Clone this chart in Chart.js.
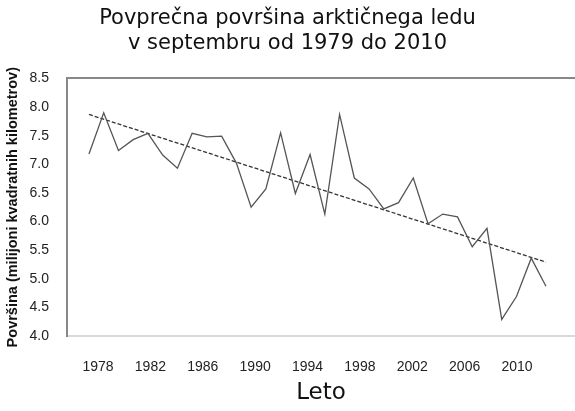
<!DOCTYPE html>
<html>
<head>
<meta charset="utf-8">
<script src="https://cdn.jsdelivr.net/npm/chart.js@4"></script>
<style>
  body { margin: 0; background: #fff; }
</style>
</head>
<body>
<canvas id="chart" width="575" height="411"></canvas>
<script>
// September average extent, millions of km2
const years = [1979, 1980, 1981, 1982, 1983, 1984, 1985, 1986, 1987, 1988, 1989, 1990, 1991, 1992, 1993, 1994,
  1995, 1996, 1997, 1998, 1999, 2000, 2001, 2002, 2003, 2004, 2005, 2006, 2007, 2008, 2009, 2010];
const extent = [7.18, 7.9, 7.24, 7.43, 7.54, 7.16, 6.93, 7.54, 7.48, 7.49, 7.02, 6.25, 6.57, 7.55, 6.49, 7.17,
  6.13, 7.87, 6.76, 6.57, 6.22, 6.33, 6.76, 5.96, 6.13, 6.08, 5.56, 5.88, 4.29, 4.69, 5.36, 4.87];
// linear trend, start and end
const trendYears = [1979, 2010];
const trendValues = [7.87, 5.29];
const xTickLabels = [1978, 1982, 1986, 1990, 1994, 1998, 2002, 2006, 2010];
const yTicks = [4.0, 4.5, 5.0, 5.5, 6.0, 6.5, 7.0, 7.5, 8.0, 8.5];

const tickFont = { family: "'Liberation Sans', Arial, sans-serif", size: 14 };

new Chart(document.getElementById("chart"), {
  type: "line",
  data: {
    datasets: [
      {
        data: years.map((y, i) => ({ x: y, y: extent[i] })),
        borderColor: "#555",
        borderWidth: 1.3,
        pointRadius: 0,
        tension: 0,
        xAxisID: "x",
      },
      {
        data: trendYears.map((y, i) => ({ x: y, y: trendValues[i] })),
        borderColor: "#333",
        borderWidth: 1.3,
        borderDash: [4, 2],
        pointRadius: 0,
        xAxisID: "x",
      },
    ],
  },
  options: {
    responsive: false,
    animation: false,
    layout: { padding: 0 },
    plugins: {
      legend: { display: false },
      tooltip: { enabled: false },
      title: {
        display: true,
        text: ["Povprečna površina arktičnega ledu", "v septembru od 1979 do 2010"],
        font: { family: "'DejaVu Sans', Verdana, sans-serif", size: 21, weight: "normal", lineHeight: 1.2 },
        color: "#111",
        padding: { top: 6, bottom: 22 },
      },
    },
    scales: {
      x: {
        type: "linear",
        display: false,
        min: 1977.51,
        max: 2011.97,
      },
      xLabels: {
        type: "linear",
        position: "bottom",
        min: 1975.63,
        max: 2014.43,
        grid: { display: false },
        border: { display: true, color: "#d9d9d9", width: 2 },
        afterBuildTicks: (scale) => {
          scale.ticks = xTickLabels.map((v) => ({ value: v }));
        },
        ticks: {
          autoSkip: false,
          maxRotation: 0,
          padding: 15,
          color: "#222",
          font: tickFont,
          callback: (v) => String(v),
        },
        title: {
          display: true,
          text: "Leto",
          font: { family: "'DejaVu Sans', Verdana, sans-serif", size: 23 },
          color: "#111",
          padding: { top: 8 },
        },
        afterFit: (scale) => { scale.height = 75; },
      },
      xTop: {
        type: "linear",
        position: "top",
        grid: { display: false },
        ticks: { display: false },
        border: { display: true, color: "#888", width: 2 },
        afterFit: (scale) => { scale.height = 0; },
      },
      y: {
        min: 4.0,
        max: 8.5,
        grid: { display: false },
        border: { display: true, color: "#888", width: 2 },
        afterBuildTicks: (scale) => {
          scale.ticks = yTicks.map((v) => ({ value: v }));
        },
        ticks: {
          padding: 10,
          color: "#222",
          font: tickFont,
          callback: (v) => v.toFixed(1),
        },
        title: {
          display: true,
          text: "Površina (milijoni kvadratnih kilometrov)",
          font: { family: "'Liberation Sans', Arial, sans-serif", size: 14.5, weight: "bold" },
          color: "#111",
          padding: { top: 4, bottom: 2 },
        },
        afterFit: (scale) => { scale.width = 67; },
      },
    },
  },
});
</script>
</body>
</html>
